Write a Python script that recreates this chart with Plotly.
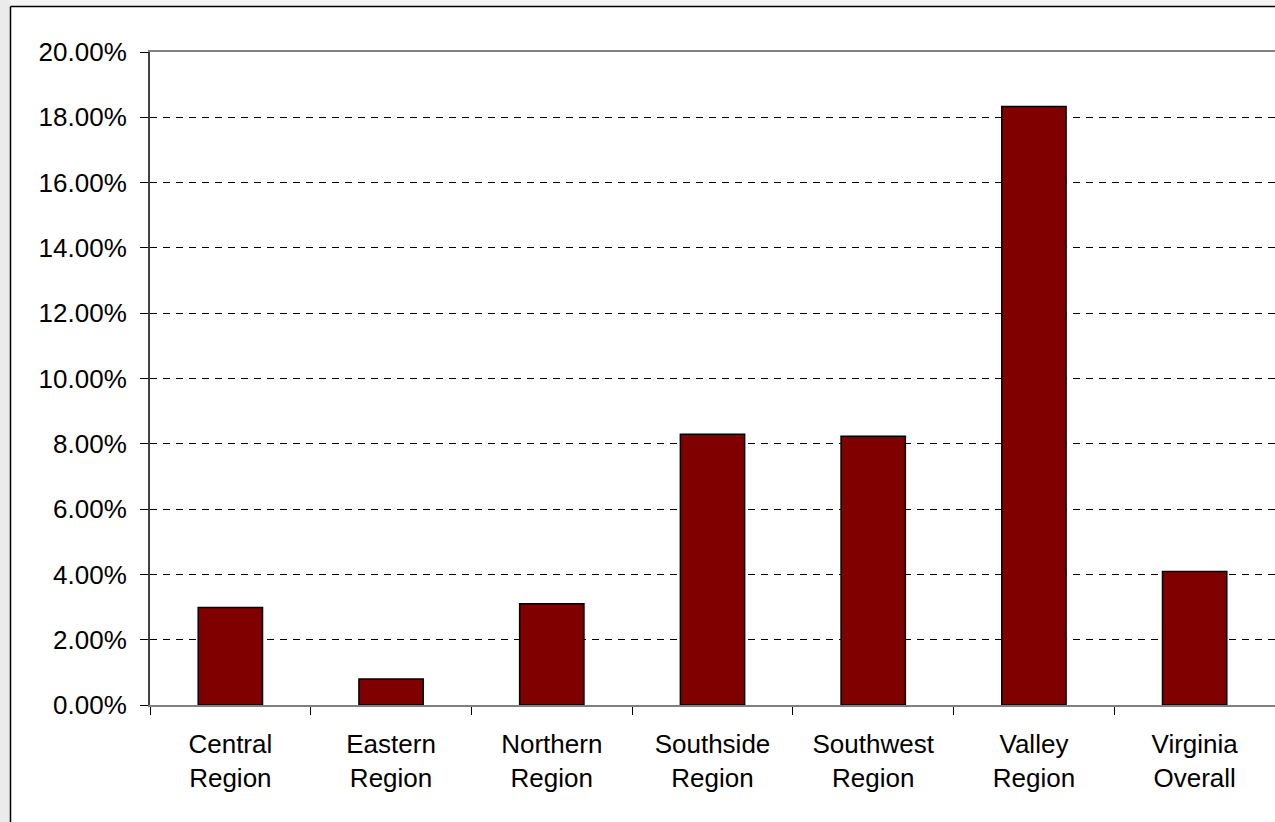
import plotly.graph_objects as go

categories = ["Central<br>Region", "Eastern<br>Region", "Northern<br>Region",
              "Southside<br>Region", "Southwest<br>Region", "Valley<br>Region",
              "Virginia<br>Overall"]
values = [0.0299, 0.0080, 0.0310, 0.0829, 0.0823, 0.1833, 0.0409]
y_ticks = [0, 0.02, 0.04, 0.06, 0.08, 0.10, 0.12, 0.14, 0.16, 0.18, 0.20]

W, H = 1275, 822
L, R, T, B = 150, 0, 52, 117
pw, ph = W - L - R, H - T - B

def px_x(x):
    return (x - L) / pw

def px_y(y):
    return 1 - (y - T) / ph

fig = go.Figure()
fig.add_trace(go.Bar(
    x=categories, y=values, width=0.4,
    marker=dict(color="#800000", line=dict(color="#000000", width=1.5)),
))

shapes = [
    # hatched side strip (approximation)
    dict(type="rect", xref="paper", yref="paper", x0=px_x(0), x1=px_x(10),
         y0=px_y(H), y1=px_y(0), fillcolor="#ebebeb", line=dict(width=0), layer="below"),
    dict(type="rect", xref="paper", yref="paper", x0=px_x(10), x1=px_x(W),
         y0=px_y(6), y1=px_y(0), fillcolor="#f5f5f5", line=dict(width=0), layer="below"),
    # outer frame
    dict(type="line", xref="paper", yref="paper", x0=px_x(10.5), x1=px_x(W),
         y0=px_y(6.5), y1=px_y(6.5), line=dict(color="#000000", width=1.5)),
    dict(type="line", xref="paper", yref="paper", x0=px_x(10.5), x1=px_x(10.5),
         y0=px_y(6.5), y1=px_y(H), line=dict(color="#000000", width=1.5)),
]

fig.update_layout(
    width=W, height=H,
    margin=dict(l=L, r=R, t=T, b=B, pad=0),
    paper_bgcolor="#ffffff", plot_bgcolor="#ffffff",
    showlegend=False,
    font=dict(family="Liberation Sans, Arial, sans-serif", size=26, color="#000000"),
    shapes=shapes,
    xaxis=dict(
        type="category", range=[-0.5, 6.5],
        ticks="outside", ticklen=8, tickcolor="#000000", tickwidth=1,
        tickson="boundaries",
        showline=True, linecolor="#808080", linewidth=2, mirror=True,
        showgrid=False, zeroline=False, ticklabelstandoff=15,
        tickfont=dict(size=26),
    ),
    yaxis=dict(
        range=[0, 0.2], tickmode="array", tickvals=y_ticks,
        tickformat=".2%", ticks="outside", ticklen=8, tickcolor="#000000", tickwidth=1,
        showline=True, linecolor="#404040", linewidth=2,
        showgrid=True, gridcolor="#000000", gridwidth=1, griddash="7px,6px",
        zeroline=False, ticklabelstandoff=8,
        tickfont=dict(size=26),
    ),
)

fig.write_html("out.html", config={"displayModeBar": False},
               post_script="document.body.style.margin='0';document.body.style.overflow='hidden';")
